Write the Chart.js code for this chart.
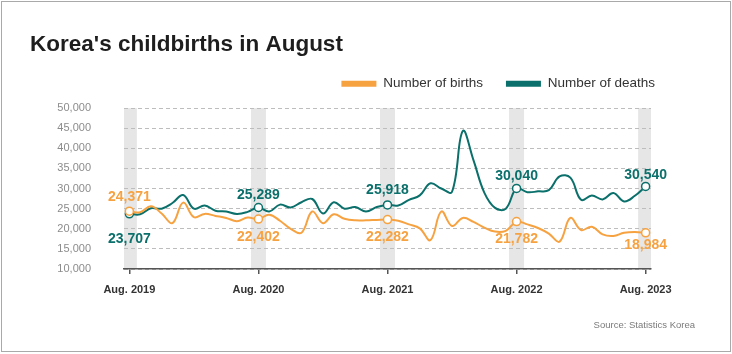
<!DOCTYPE html>
<html>
<head>
<meta charset="utf-8">
<script src="https://cdn.jsdelivr.net/npm/chart.js@4.4.1/dist/chart.umd.min.js"></script>
<style>
html,body{margin:0;padding:0;background:#fff;}
#wrap{position:relative;width:732px;height:354px;}
</style>
</head>
<body>
<div id="wrap"><canvas id="c" width="732" height="354"></canvas></div>
<script>
// ---------- DATA ----------
const months = [
  'Aug. 2019','Sep. 2019','Oct. 2019','Nov. 2019','Dec. 2019',
  'Jan. 2020','Feb. 2020','Mar. 2020','Apr. 2020','May. 2020','Jun. 2020','Jul. 2020','Aug. 2020','Sep. 2020','Oct. 2020','Nov. 2020','Dec. 2020',
  'Jan. 2021','Feb. 2021','Mar. 2021','Apr. 2021','May. 2021','Jun. 2021','Jul. 2021','Aug. 2021','Sep. 2021','Oct. 2021','Nov. 2021','Dec. 2021',
  'Jan. 2022','Feb. 2022','Mar. 2022','Apr. 2022','May. 2022','Jun. 2022','Jul. 2022','Aug. 2022','Sep. 2022','Oct. 2022','Nov. 2022','Dec. 2022',
  'Jan. 2023','Feb. 2023','Mar. 2023','Apr. 2023','May. 2023','Jun. 2023','Jul. 2023','Aug. 2023'
];
const births = [
  24371, 24100, 25600, 23800, 21400,
  26500, 22900, 23700, 23200, 22700, 21900, 22800, 22402, 23500, 22000, 20000, 19000,
  24300, 21400, 23600, 22500, 22100, 22100, 22200, 22282, 22000, 21100, 20100, 17200,
  24300, 20700, 22700, 21700, 20300, 19300, 19500, 21782, 21100, 20200, 18800, 16800,
  22700, 19700, 20500, 18600, 18200, 19000, 19200, 18984
];
const deaths = [
  23707, 23600, 25100, 25000, 26400,
  28400, 25000, 25800, 24500, 24300, 23700, 24200, 25289, 24300, 26000, 25300, 26600,
  27400, 23800, 26600, 25000, 25400, 24300, 25400, 25918, 25800, 27200, 28300, 31300,
  30000, 29200, 44300, 37000, 29000, 25200, 25000, 30040, 29100, 29300, 29600, 33000,
  32700, 27200, 28300, 27300, 28900, 26800, 28200, 30540
];
const highlightMonths = ['Aug. 2019','Aug. 2020','Aug. 2021','Aug. 2022','Aug. 2023'];
const seriesNames = ['Number of births','Number of deaths'];
const titleText = "Korea's childbirths in August";
const sourceText = 'Source: Statistics Korea';
const yMin = 10000, yMax = 50000, yStep = 5000;

// ---------- STYLE ----------
const FONT = "'Liberation Sans', Arial, sans-serif";
const ORANGE = '#f7a241';
const TEAL = '#0b706b';
// label vertical offsets (px) from the marker, per highlighted month
const labelDy = {
  births: [-14, 18, 18, 18, 12],
  deaths: [25, -12, -15, -12, -11]
};

const hlIdx = highlightMonths.map(m => months.indexOf(m));

const bandsPlugin = {
  id: 'bands',
  beforeDraw(chart) {
    const {ctx, chartArea, scales} = chart;
    ctx.save();
    // outer frame
    ctx.strokeStyle = '#a9a9a9';
    ctx.lineWidth = 1;
    ctx.strokeRect(1.5, 1.5, 729, 350);
    // grey bands
    ctx.fillStyle = '#e6e6e6';
    hlIdx.forEach(i => {
      const x = scales.x.getPixelForValue(i);
      const l = Math.max(x - 7.5, chartArea.left);
      const r = Math.min(x + 7.5, chartArea.right);
      ctx.fillRect(l, chartArea.top, r - l, chartArea.bottom - chartArea.top);
    });
    ctx.restore();
  },
  afterDatasetsDraw(chart) {
    const {ctx} = chart;
    ctx.save();
    ctx.font = 'bold 14px ' + FONT;
    ctx.textAlign = 'center';
    ctx.textBaseline = 'middle';
    [['births', 0, ORANGE], ['deaths', 1, TEAL]].forEach(([key, di, col]) => {
      const meta = chart.getDatasetMeta(di);
      const data = chart.data.datasets[di].data;
      ctx.fillStyle = col;
      hlIdx.forEach((idx, j) => {
        const p = meta.data[idx];
        ctx.fillText(data[idx].toLocaleString('en-US'), p.x, p.y + labelDy[key][j]);
      });
    });
    ctx.restore();
  },
  afterDraw(chart) {
    const {ctx} = chart;
    ctx.save();
    ctx.font = '9.5px ' + FONT;
    ctx.fillStyle = '#7a7a7a';
    ctx.textAlign = 'right';
    ctx.textBaseline = 'middle';
    ctx.fillText(sourceText, 695, 325);
    ctx.restore();
  }
};

const pointR = ctx => hlIdx.includes(ctx.dataIndex) ? 4 : 0;

new Chart(document.getElementById('c'), {
  type: 'line',
  data: {
    labels: months,
    datasets: [
      {
        label: seriesNames[0], data: births,
        borderColor: ORANGE, backgroundColor: ORANGE, borderWidth: 2,
        tension: 0.4, pointRadius: pointR, pointHoverRadius: 0,
        pointBackgroundColor: '#fff', pointBorderColor: ORANGE, pointBorderWidth: 1.5
      },
      {
        label: seriesNames[1], data: deaths,
        borderColor: TEAL, backgroundColor: TEAL, borderWidth: 2,
        tension: 0.4, pointRadius: pointR, pointHoverRadius: 0,
        pointBackgroundColor: '#fff', pointBorderColor: TEAL, pointBorderWidth: 1.5
      }
    ]
  },
  options: {
    responsive: false,
    animation: false,
    events: [],
    devicePixelRatio: 1,
    layout: { padding: { left: 30, right: 54, top: 0, bottom: 57 } },
    plugins: {
      title: {
        display: true, text: titleText, align: 'start', color: '#1e1e1e',
        font: { family: FONT, size: 22.5, weight: 'bold', lineHeight: 0.8 },
        padding: { top: 36, bottom: 0 }
      },
      legend: {
        display: true, position: 'top', align: 'end',
        labels: {
          boxWidth: 35, boxHeight: 6, padding: 23, color: '#333',
          font: { family: FONT, size: 13.5 },
          generateLabels(chart) {
            return chart.data.datasets.map((d, i) => ({
              text: d.label, fillStyle: d.borderColor, strokeStyle: d.borderColor,
              lineWidth: 0, hidden: false, datasetIndex: i, fontColor: '#333'
            }));
          }
        }
      },
      tooltip: { enabled: false }
    },
    scales: {
      x: {
        type: 'category', offset: true,
        grid: { display: true, drawOnChartArea: false, drawTicks: true, tickLength: 5, color: '#555', lineWidth: 1.5, offset: false },
        border: { display: true, color: '#555', width: 1.5 },
        ticks: { autoSkip: false, maxRotation: 0, color: '#333', padding: 9,
                 font: { family: FONT, size: 11, weight: 'bold' } },
        afterBuildTicks(scale) { scale.ticks = scale.ticks.filter(t => hlIdx.includes(t.value)); },
        afterFit(scale) { scale.height = 28; }
      },
      xT: {
        type: 'linear', position: 'top', display: true,
        grid: { display: false }, border: { display: false }, ticks: { display: false },
        afterFit(scale) { scale.height = 7.6; }
      },
      y: {
        type: 'linear', min: yMin, max: yMax,
        grid: { color: '#bdbdbd', drawTicks: false, lineWidth: 1 },
        border: { display: false, dash: [4, 3] },
        ticks: { stepSize: yStep, padding: 33, color: '#8c8c8c',
                 font: { family: FONT, size: 11 },
                 callback: v => v.toLocaleString('en-US') },
        afterFit(scale) { scale.width = 94; }
      },
      yR: {
        type: 'linear', position: 'right', display: true,
        grid: { display: false }, border: { display: false }, ticks: { display: false },
        afterFit(scale) { scale.width = 27; }
      }
    }
  },
  plugins: [bandsPlugin]
});
</script>
</body>
</html>
